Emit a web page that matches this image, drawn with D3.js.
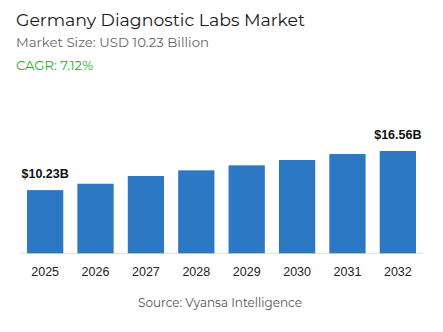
<!DOCTYPE html>
<html>
<head>
<meta charset="utf-8">
<script src="https://cdn.jsdelivr.net/npm/d3@7"></script>
<style>
  html, body { margin: 0; padding: 0; background: #fff; }
  svg { display: block; }
</style>
</head>
<body>
<svg id="chart" width="443" height="332"></svg>
<script>
const years = ["2025", "2026", "2027", "2028", "2029", "2030", "2031", "2032"];
const values = [10.23, 11.26, 12.51, 13.43, 14.24, 15.10, 16.07, 16.56];
const valueLabels = ["$10.23B", "", "", "", "", "", "", "$16.56B"];
const title = "Germany Diagnostic Labs Market";
const subtitle = "Market Size: USD 10.23 Billion";
const cagr = "CAGR: 7.12%";
const source = "Source: Vyansa Intelligence";

const svg = d3.select("#chart");
const headFont = "Montserrat, 'Open Sans', 'Noto Sans', sans-serif";
const bodyFont = "'Liberation Sans', Arial, sans-serif";

svg.append("text").attr("x", 16).attr("y", 26)
  .attr("font-family", headFont).attr("font-size", 17.5).attr("fill", "#1a1a1a")
  .attr("textLength", 289).attr("lengthAdjust", "spacingAndGlyphs")
  .text(title);
svg.append("text").attr("x", 16).attr("y", 47)
  .attr("font-family", headFont).attr("font-size", 13).attr("fill", "#666")
  .attr("textLength", 193).attr("lengthAdjust", "spacingAndGlyphs")
  .text(subtitle);
svg.append("text").attr("x", 16).attr("y", 70)
  .attr("font-family", headFont).attr("font-size", 13).attr("fill", "#22b022")
  .attr("textLength", 77).attr("lengthAdjust", "spacingAndGlyphs")
  .text(cagr);

const baseY = 253.3;
const x = d3.scaleBand().domain(years).range([27, 416]).paddingInner(0.28).paddingOuter(0);
const y = d3.scaleLinear().domain([0, 16.56]).range([baseY, 151]);

svg.append("line").attr("x1", 20).attr("x2", 423).attr("y1", baseY).attr("y2", baseY)
  .attr("stroke", "#dddddd").attr("stroke-width", 1);

svg.selectAll("rect.bar").data(values).enter().append("rect")
  .attr("class", "bar")
  .attr("x", (d, i) => x(years[i]))
  .attr("width", x.bandwidth())
  .attr("y", d => y(d))
  .attr("height", d => baseY - y(d))
  .attr("fill", "#2d78c2");

svg.selectAll("text.vlabel").data(values).enter().append("text")
  .attr("class", "vlabel")
  .attr("x", (d, i) => x(years[i]) + x.bandwidth() / 2)
  .attr("y", d => y(d) - 12)
  .attr("text-anchor", "middle")
  .attr("font-family", bodyFont).attr("font-weight", "bold").attr("font-size", 12.5)
  .attr("fill", "#111")
  .text((d, i) => valueLabels[i]);

const xAxis = d3.axisBottom(x).tickSize(0).tickPadding(0);
const gx = svg.append("g").attr("transform", `translate(0,${baseY})`).call(xAxis);
gx.select(".domain").remove();
gx.selectAll("text")
  .attr("y", 22.5).attr("dy", null)
  .attr("font-family", bodyFont).attr("font-size", 12.5).attr("fill", "#222");

svg.append("text").attr("x", 220).attr("y", 307)
  .attr("text-anchor", "middle")
  .attr("font-family", headFont).attr("font-size", 12.5).attr("fill", "#555")
  .attr("textLength", 164).attr("lengthAdjust", "spacingAndGlyphs")
  .text(source);
</script>
</body>
</html>
